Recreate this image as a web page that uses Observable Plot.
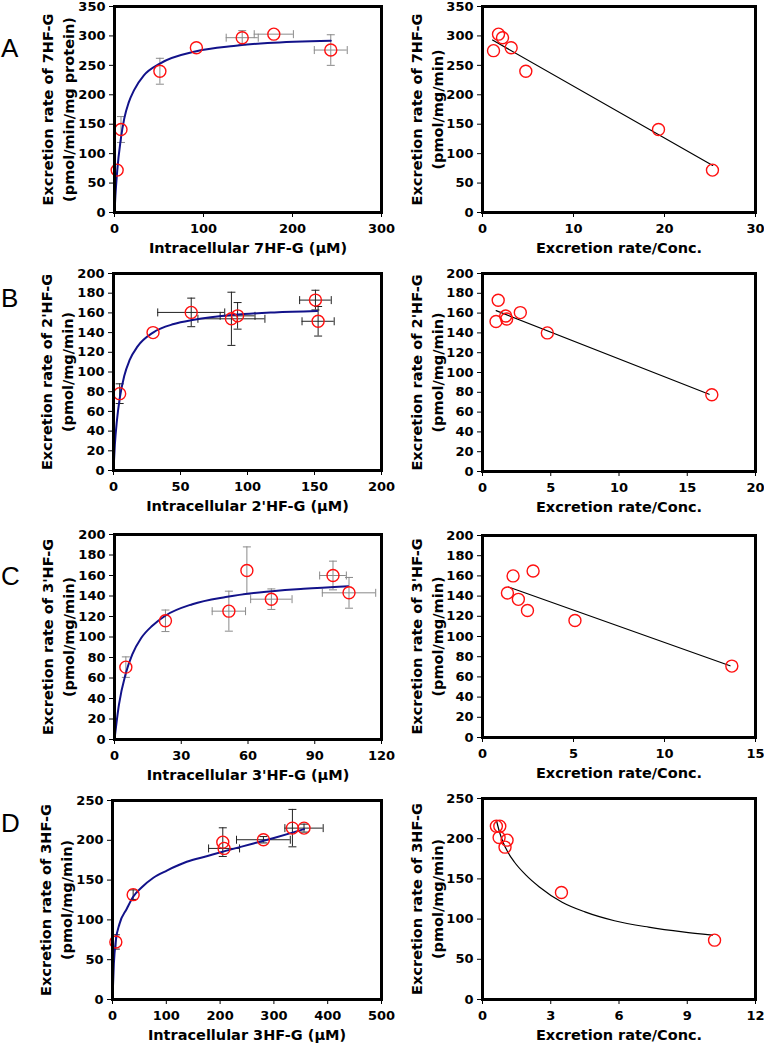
<!DOCTYPE html>
<html><head><meta charset="utf-8">
<script src="https://cdn.jsdelivr.net/npm/d3@7"></script>
<script src="https://cdn.jsdelivr.net/npm/@observablehq/plot@0.6"></script>
<style>
body{margin:0;background:#fff;}
#fig{position:relative;width:764px;height:1048px;background:#fff;overflow:hidden;}
#fig svg{position:absolute;overflow:visible;}
.letter{position:absolute;left:1px;font-family:"Liberation Sans",Arial,sans-serif;font-size:26px;line-height:1;color:#000;}
</style></head><body><div id="fig"></div>
<script>
// ---------- Panel A : 7HF-G ----------
const aConc     = [3, 7.3, 51, 92, 143.5, 179, 243];
const aRate     = [72, 141, 240, 280, 297, 303, 276];
const aConcErr  = [0, 0, 0, 0, 18, 22, 18.5];
const aRateErr  = [0, 22, 22, 0, 12, 0, 26];
const aFitConc  = [0, 1, 3, 7, 11, 16, 22, 33, 51, 92, 134, 172, 243];
const aFitRate  = [0, 28, 70, 124, 160, 187, 208, 233, 253, 274, 283, 288, 292];
const aRatio    = [1.21, 1.76, 2.2, 3.15, 4.76, 19.34, 25.27];
const aRatioRate= [275, 303, 297, 280, 240, 141, 72];
const aLineRatio= [1.1, 25.3];
const aLineRate = [293, 80];
// ---------- Panel B : 2'HF-G ----------
const bConc     = [4.6, 29.5, 58, 88, 92.6, 150.7, 152.7];
const bRate     = [78, 140, 160.5, 154, 157, 173, 151.5];
const bConcErr  = [0, 0, 25, 25, 13, 11.8, 12];
const bRateErr  = [10, 0, 14.5, 27, 13.5, 10, 15];
const bFitConc  = [0, 1, 2.5, 4.6, 8, 12, 18, 29.5, 45, 60, 90, 120, 152];
const bFitRate  = [0, 26, 50, 73, 96, 112, 126, 140, 148.7, 153, 158, 160.5, 162];
const bRatio    = [0.99, 1.15, 1.7, 1.77, 2.77, 4.75, 16.8];
const bRatioRate= [151.5, 173, 157, 154, 160.5, 140, 77.5];
const bLineRatio= [1.0, 16.6];
const bLineRate = [162.5, 78];
// ---------- Panel C : 3'HF-G ----------
const cConc     = [5.1, 22.9, 51.4, 59.5, 70.5, 98.2, 105.4];
const cRate     = [70.6, 115.8, 125.2, 164.9, 136.9, 160, 143.1];
const cConcErr  = [0, 0, 7.5, 0, 9.3, 6, 12];
const cRateErr  = [10, 10.5, 19.5, 23, 10, 14, 15];
const cFitConc  = [0, 2, 5, 8, 12, 17, 23, 35, 50, 65, 85, 105];
const cFitRate  = [0, 34, 64, 83, 99, 111, 121, 132, 139, 143.5, 147, 149.5];
const cRatio    = [1.37, 1.68, 1.97, 2.47, 2.78, 5.08, 13.7];
const cRatioRate= [143, 160, 136.8, 125.7, 164.8, 115.8, 70.7];
const cLineRatio= [1.43, 13.6];
const cLineRate = [149, 71];
// ---------- Panel D : 3HF-G ----------
const dConc     = [6.2, 38.4, 205, 207.4, 280.5, 334.4, 356];
const dRate     = [72.3, 131.7, 197.7, 189.8, 200.7, 215.3, 215.3];
const dConcErr  = [0, 0, 0, 28.8, 50, 0, 35.6];
const dRateErr  = [9, 6, 18, 0, 4, 23.5, 5];
const dFitConc  = [0, 2.5, 6.2, 13, 26.6, 38.4, 54.5, 76, 101, 138, 175, 212, 262, 300, 336, 356];
const dFitRate  = [0, 45, 74, 95, 114, 129, 141, 153, 162, 173, 180, 187, 196, 203, 210, 214];
const dRatio    = [0.61, 0.76, 0.73, 1.08, 0.99, 3.47, 10.2];
const dRatioRate= [215.6, 215.6, 201.5, 198.2, 189.5, 133, 73.8];
const dCurveRatio = [0.62, 0.75, 0.9, 1.1, 1.4, 1.9, 2.5, 3.5, 4.5, 5.8, 7.3, 8.8, 10.1];
const dCurveRate  = [222, 208, 196, 184, 171, 155, 140, 121, 109, 98, 90, 84, 80];

// ---------- ticks & labels ----------
const aXTicks = [0, 100, 200, 300], aRXTicks = [0, 10, 20, 30], aYTicks = [0, 50, 100, 150, 200, 250, 300, 350];
const bXTicks = [0, 50, 100, 150, 200], bRXTicks = [0, 5, 10, 15, 20], bYTicks = [0, 20, 40, 60, 80, 100, 120, 140, 160, 180, 200];
const cXTicks = [0, 30, 60, 90, 120], cRXTicks = [0, 5, 10, 15], cYTicks = bYTicks;
const dXTicks = [0, 100, 200, 300, 400, 500], dRXTicks = [0, 3, 6, 9, 12], dYTicks = [0, 50, 100, 150, 200, 250];
const letters = ["A", "B", "C", "D"];
const xTitlesLeft = ["Intracellular 7HF-G (μM)", "Intracellular 2'HF-G (μM)", "Intracellular 3'HF-G (μM)", "Intracellular 3HF-G (μM)"];
const xTitleRight = "Excretion rate/Conc.";
const yTitlesLeft = ["Excretion rate of 7HF-G\n(pmol/min/mg protein)", "Excretion rate of 2'HF-G\n(pmol/mg/min)", "Excretion rate of 3'HF-G\n(pmol/mg/min)", "Excretion rate of 3HF-G\n(pmol/mg/min)"];
const yTitlesRight = ["Excretion rate of 7HF-G\n(pmol/mg/min)", "Excretion rate of 2'HF-G\n(pmol/mg/min)", "Excretion rate of 3'HF-G\n(pmol/mg/min)", "Excretion rate of 3HF-G\n(pmol/mg/min)"];

// ---------- helpers ----------
const FONT = "'DejaVu Sans', 'Liberation Sans', sans-serif";
const zip2 = (xs, ys) => xs.map((x, i) => ({x, y: ys[i]}));
const zip4 = (xs, ys, exs, eys) => xs.map((x, i) => ({x, y: ys[i], ex: exs ? exs[i] : 0, ey: eys ? eys[i] : 0}));
const hcap = {draw(ctx, size) { const r = Math.sqrt(size / Math.PI); ctx.moveTo(-r, 0); ctx.lineTo(r, 0); }};
const vcap = {draw(ctx, size) { const r = Math.sqrt(size / Math.PI); ctx.moveTo(0, -r); ctx.lineTo(0, r); }};
const fig = document.getElementById("fig");

function panel(c) {
  const marks = [];
  if (c.errColor) {
    const ye = c.pts.filter(d => d.ey > 0), xe = c.pts.filter(d => d.ex > 0);
    const es = {stroke: c.errColor, strokeWidth: 1, fill: "none"};
    marks.push(
      Plot.ruleX(ye, {x: "x", y1: d => d.y - d.ey, y2: d => d.y + d.ey, ...es}),
      Plot.dot(ye, {x: "x", y: d => d.y - d.ey, symbol: hcap, r: 4, ...es}),
      Plot.dot(ye, {x: "x", y: d => d.y + d.ey, symbol: hcap, r: 4, ...es}),
      Plot.ruleY(xe, {y: "y", x1: d => d.x - d.ex, x2: d => d.x + d.ex, ...es}),
      Plot.dot(xe, {x: d => d.x - d.ex, y: "y", symbol: vcap, r: 4, ...es}),
      Plot.dot(xe, {x: d => d.x + d.ex, y: "y", symbol: vcap, r: 4, ...es})
    );
  }
  marks.push(Plot.line(c.fit, {x: "x", y: "y", stroke: c.fitColor, strokeWidth: c.fitWidth, curve: c.fitCurve || "monotone-x"}));
  marks.push(Plot.dot(c.pts, {x: "x", y: "y", r: 6, stroke: "#ff1010", strokeWidth: 1.4, fill: "none"}));
  marks.push(Plot.frame({stroke: "black", strokeWidth: 3}));
  marks.push(Plot.axisX({ticks: c.xTicks, tickSize: 5, tickPadding: 6, label: null, tickFormat: d => String(d)}));
  marks.push(Plot.axisY({ticks: c.yTicks, tickSize: 5, tickPadding: 4, label: null, tickFormat: d => String(d)}));
  marks.push(Plot.text([c.xTitle], {text: d => d, frameAnchor: "bottom", dy: 30, lineAnchor: "top", textAnchor: "middle", fontSize: 14.5, fontWeight: "bold", fill: "black"}));
  marks.push(Plot.text([c.yTitle], {text: d => d, frameAnchor: "left", textAnchor: "middle", lineAnchor: "middle", rotate: -90, dx: c.ytDx, lineHeight: 1.45, fontSize: 14.5, fontWeight: "bold", fill: "black"}));
  const svg = Plot.plot({
    width: c.W, height: c.H,
    marginLeft: c.L - c.colX, marginRight: c.colX + c.W - c.R,
    marginTop: c.T - c.rowY, marginBottom: c.rowY + c.H - c.B,
    x: {domain: c.xDomain, nice: false},
    y: {domain: c.yDomain, nice: false},
    style: {fontFamily: FONT, fontSize: "13px", fontWeight: "bold", color: "black", background: "transparent", overflow: "visible"},
    marks
  });
  svg.style.left = c.colX + "px";
  svg.style.top = c.rowY + "px";
  fig.appendChild(svg);
}

const rows = [
  {rowY: 0,   H: 262, left: {L: 114, R: 381, T: 6,   B: 212}, right: {L: 482, R: 755, T: 6,   B: 212}},
  {rowY: 262, H: 258, left: {L: 113, R: 381, T: 273, B: 470}, right: {L: 482, R: 755, T: 273, B: 471}},
  {rowY: 520, H: 265, left: {L: 114, R: 381, T: 534, B: 739}, right: {L: 482, R: 755, T: 535, B: 737}},
  {rowY: 785, H: 263, left: {L: 112, R: 381, T: 800, B: 999}, right: {L: 482, R: 755, T: 798, B: 999}}
];
const leftSpecs = [
  {xDomain: [0, 300], xTicks: aXTicks, yDomain: [0, 350], yTicks: aYTicks, pts: zip4(aConc, aRate, aConcErr, aRateErr), fit: zip2(aFitConc, aFitRate), errColor: "#8a8a8a"},
  {xDomain: [0, 200], xTicks: bXTicks, yDomain: [0, 200], yTicks: bYTicks, pts: zip4(bConc, bRate, bConcErr, bRateErr), fit: zip2(bFitConc, bFitRate), errColor: "#222"},
  {xDomain: [0, 120], xTicks: cXTicks, yDomain: [0, 200], yTicks: cYTicks, pts: zip4(cConc, cRate, cConcErr, cRateErr), fit: zip2(cFitConc, cFitRate), errColor: "#8a8a8a"},
  {xDomain: [0, 500], xTicks: dXTicks, yDomain: [0, 250], yTicks: dYTicks, pts: zip4(dConc, dRate, dConcErr, dRateErr), fit: zip2(dFitConc, dFitRate), errColor: "#222"}
];
const rightSpecs = [
  {xDomain: [0, 30], xTicks: aRXTicks, yDomain: [0, 350], yTicks: aYTicks, pts: zip4(aRatio, aRatioRate), fit: zip2(aLineRatio, aLineRate), fitCurve: "linear"},
  {xDomain: [0, 20], xTicks: bRXTicks, yDomain: [0, 200], yTicks: bYTicks, pts: zip4(bRatio, bRatioRate), fit: zip2(bLineRatio, bLineRate), fitCurve: "linear"},
  {xDomain: [0, 15], xTicks: cRXTicks, yDomain: [0, 200], yTicks: cYTicks, pts: zip4(cRatio, cRatioRate), fit: zip2(cLineRatio, cLineRate), fitCurve: "linear"},
  {xDomain: [0, 12], xTicks: dRXTicks, yDomain: [0, 250], yTicks: dYTicks, pts: zip4(dRatio, dRatioRate), fit: zip2(dCurveRatio, dCurveRate)}
];
const letterTops = [35, 285, 563, 810];

rows.forEach((r, i) => {
  panel({colX: 0, W: 382, rowY: r.rowY, H: r.H, ...r.left, ...leftSpecs[i],
    fitColor: "#12128a", fitWidth: 2, xTitle: xTitlesLeft[i], yTitle: yTitlesLeft[i], ytDx: -58});
  panel({colX: 382, W: 382, rowY: r.rowY, H: r.H, ...r.right, ...rightSpecs[i],
    fitColor: "#000", fitWidth: 1.2, xTitle: xTitleRight, yTitle: yTitlesRight[i], ytDx: -57});
  const el = document.createElement("div");
  el.className = "letter";
  el.textContent = letters[i];
  el.style.top = letterTops[i] + "px";
  fig.appendChild(el);
});
</script>
</body></html>
